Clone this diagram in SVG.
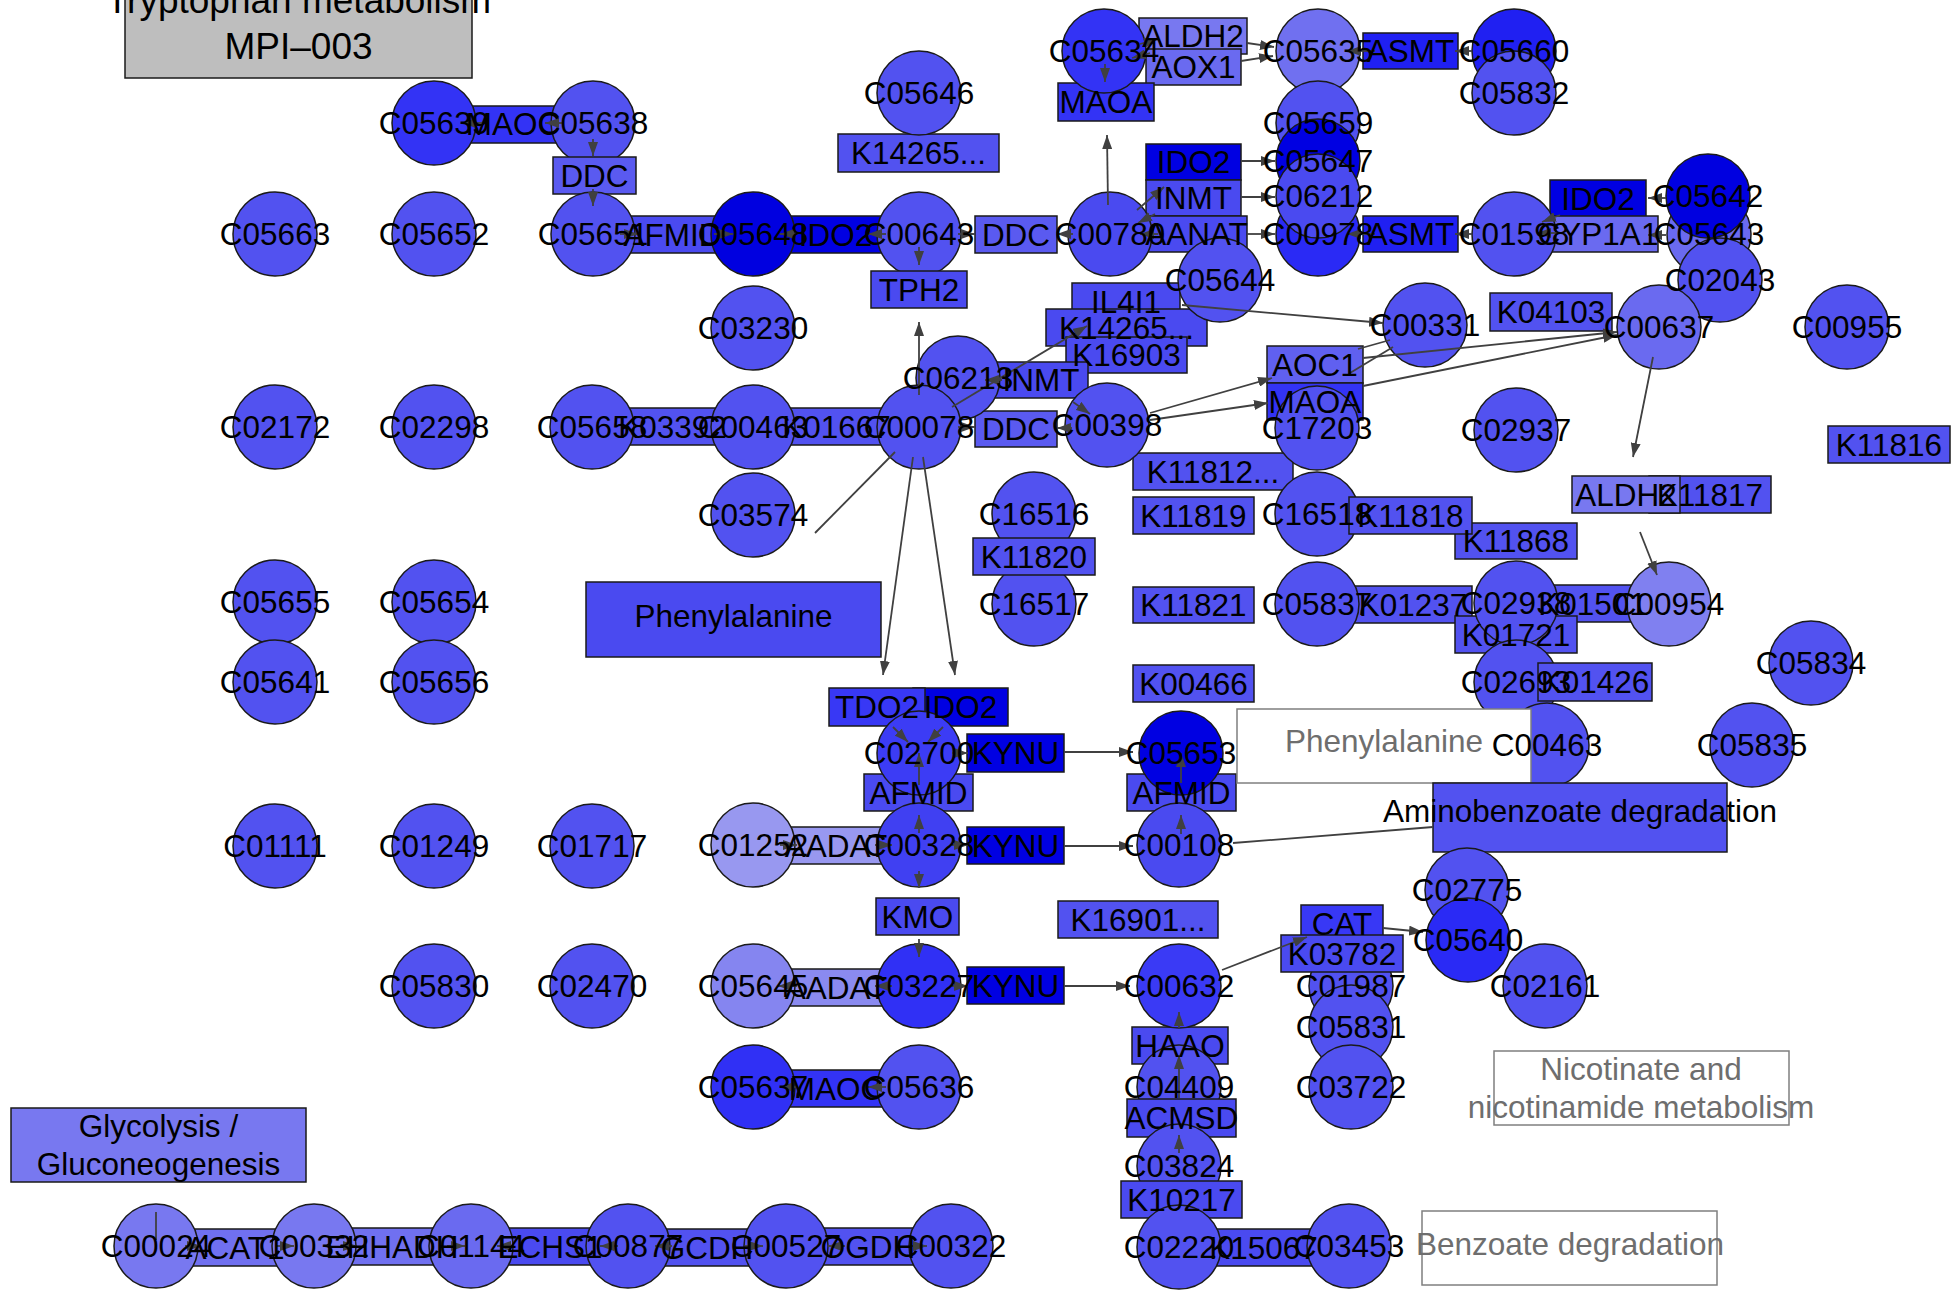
<svg xmlns="http://www.w3.org/2000/svg" width="1952" height="1294" viewBox="0 0 1952 1294">
<style>
.s{stroke:#1a1a1a;stroke-width:1.5}
.f0{fill:#5252F0}.f1{fill:#4A4AF0}.f2{fill:#3333F5}.f3{fill:#2020F2}.f4{fill:#0000E2}
.f5{fill:#6A6AF0}.f6{fill:#7878F0}.f7{fill:#8585F0}.f8{fill:#9898F0}.f9{fill:#5A5AF0}
.fw{fill:#fff;stroke:#7f7f7f;stroke-width:1.5}
.e{fill:none;stroke:#404040;stroke-width:1.8}
.a{marker-end:url(#ah)}
.t{font-family:"Liberation Sans",Arial,Helvetica,sans-serif;font-size:31.5px;text-anchor:middle;fill:#000}
.tg{fill:#6e6e6e}
.tt{font-size:37px}
</style>
<defs>
<marker id="ah" viewBox="0 0 14 10" refX="14" refY="5" markerWidth="14" markerHeight="10" markerUnits="userSpaceOnUse" orient="auto"><path d="M0,0 L14,5 L0,10 z" fill="#404040"/></marker>
</defs>
<rect width="1952" height="1294" fill="#fff"/>
<g id="nodes">
<g id="title"><rect class="s" fill="#BEBEBE" x="125" y="-22" width="347" height="100"/></g>
<g id="r-MAOC-1"><rect class="s f2" x="464" y="106" width="98" height="37"/></g>
<g id="r-AFMID-1"><rect class="s f1" x="618" y="216" width="109" height="37"/></g>
<g id="r-IDO2-1"><rect class="s f4" x="788" y="216" width="95" height="37"/></g>
<g id="r-K14265-1"><rect class="s f0" x="838" y="134" width="161" height="38"/></g>
<g id="r-DDC-2"><rect class="s f9" x="975" y="216" width="82" height="37"/></g>
<g id="r-ALDH2-1"><rect class="s f6" x="1139" y="18" width="108" height="36"/></g>
<g id="r-AOX1"><rect class="s f5" x="1146" y="49" width="95" height="36"/></g>
<g id="r-MAOA-1"><rect class="s f2" x="1058" y="83" width="96" height="38"/></g>
<g id="r-ASMT-1"><rect class="s f3" x="1363" y="33" width="95" height="36"/></g>
<g id="r-IDO2-2"><rect class="s f4" x="1146" y="144" width="95" height="36"/></g>
<g id="r-INMT-1"><rect class="s f1" x="1146" y="180" width="95" height="36"/></g>
<g id="r-AANAT"><rect class="s f1" x="1146" y="216" width="101" height="36"/></g>
<g id="r-ASMT-2"><rect class="s f3" x="1363" y="216" width="95" height="36"/></g>
<g id="r-IDO2-3"><rect class="s f4" x="1550" y="180" width="96" height="37"/></g>
<g id="r-CYP1A1"><rect class="s f5" x="1538" y="216" width="120" height="36"/></g>
<g id="r-K04103"><rect class="s f0" x="1490" y="293" width="122" height="38"/></g>
<g id="r-IL4I1"><rect class="s f1" x="1072" y="283" width="108" height="37"/></g>
<g id="r-K14265-2"><rect class="s f1" x="1046" y="309" width="161" height="37"/></g>
<g id="r-K16903"><rect class="s f1" x="1066" y="337" width="121" height="36"/></g>
<g id="r-INMT-2"><rect class="s f1" x="993" y="362" width="95" height="36"/></g>
<g id="r-DDC-3"><rect class="s f9" x="975" y="411" width="82" height="36"/></g>
<g id="r-AOC1"><rect class="s" fill="#6060F0" x="1267" y="346" width="96" height="37"/></g>
<g id="r-MAOA-2"><rect class="s f2" x="1267" y="383" width="96" height="37"/></g>
<g id="r-K03392"><rect class="s f0" x="612" y="408" width="121" height="37"/></g>
<g id="r-K01667"><rect class="s f0" x="776" y="408" width="121" height="37"/></g>
<g id="r-K11816"><rect class="s f0" x="1828" y="426" width="122" height="37"/></g>
<g id="r-K11817"><rect class="s f0" x="1649" y="476" width="122" height="37"/></g>
<g id="r-ALDH2-2"><rect class="s f6" x="1572" y="476" width="108" height="37"/></g>
<g id="r-K11812"><rect class="s f0" x="1133" y="453" width="160" height="37"/></g>
<g id="r-K11819"><rect class="s f0" x="1133" y="497" width="121" height="37"/></g>
<g id="r-K11821"><rect class="s f0" x="1133" y="587" width="121" height="36"/></g>
<g id="r-K00466"><rect class="s f0" x="1133" y="665" width="121" height="37"/></g>
<g id="r-K01237"><rect class="s f0" x="1354" y="586" width="118" height="37"/></g>
<g id="r-K11868"><rect class="s f0" x="1455" y="523" width="122" height="36"/></g>
<g id="r-K01501"><rect class="s f0" x="1532" y="585" width="121" height="37"/></g>
<g id="r-K01721"><rect class="s f0" x="1455" y="616" width="122" height="37"/></g>
<g id="r-Phenylalanine-1"><rect class="s f1" x="586" y="582" width="295" height="75"/></g>
<g id="r-IDO2-4"><rect class="s f4" x="913" y="688" width="95" height="38"/></g>
<g id="r-TDO2"><rect class="s" fill="#3838F5" x="829" y="688" width="96" height="38"/></g>
<g id="r-KYNU-1"><rect class="s f4" x="967" y="734" width="97" height="38"/></g>
<g id="r-AFMID-2"><rect class="s f1" x="864" y="774" width="109" height="37"/></g>
<g id="r-AFMID-3"><rect class="s f1" x="1127" y="774" width="109" height="37"/></g>
<g id="r-AADAT-1"><rect class="s f8" x="780" y="827" width="112" height="37"/></g>
<g id="r-KYNU-2"><rect class="s f4" x="967" y="827" width="97" height="37"/></g>
<g id="r-KMO"><rect class="s f1" x="876" y="898" width="83" height="37"/></g>
<g id="r-K16901"><rect class="s f0" x="1058" y="901" width="160" height="37"/></g>
<g id="r-AADAT-2"><rect class="s" fill="#8A8AF0" x="780" y="969" width="112" height="37"/></g>
<g id="r-KYNU-3"><rect class="s f4" x="967" y="967" width="97" height="37"/></g>
<g id="r-HAAO"><rect class="s f1" x="1132" y="1027" width="96" height="37"/></g>
<g id="r-CAT"><rect class="s" fill="#3838F5" x="1301" y="905" width="82" height="37"/></g>
<g id="r-MAOC-2"><rect class="s f2" x="787" y="1070" width="98" height="37"/></g>
<g id="r-K15067"><rect class="s f1" x="1203" y="1229" width="121" height="37"/></g>
<g id="r-Glycolysis"><rect class="s f6" x="11" y="1108" width="295" height="74"/></g>
<g id="r-ACAT1"><rect class="s" fill="#7070F0" x="181" y="1229" width="108" height="37"/></g>
<g id="r-EHHADH"><rect class="s" fill="#7070F0" x="322" y="1228" width="140" height="37"/></g>
<g id="r-ECHS1"><rect class="s f1" x="494" y="1228" width="112" height="37"/></g>
<g id="r-GCDH"><rect class="s f0" x="658" y="1229" width="98" height="37"/></g>
<g id="r-OGDH"><rect class="s f0" x="818" y="1228" width="100" height="37"/></g>
<g id="r-Nicotinate"><rect class="fw" x="1494" y="1051" width="295" height="74"/></g>
<g id="r-Benzoate"><rect class="fw" x="1422" y="1211" width="295" height="74"/></g>

<g id="C05639"><circle class="s f2" cx="434" cy="123" r="42"/></g>
<g id="C05638"><circle class="s f0" cx="593" cy="123" r="42"/></g>
<g id="r-DDC-1"><rect class="s f9" x="553" y="157" width="83" height="37"/></g>
<g id="C05646"><circle class="s f0" cx="919" cy="93" r="42"/></g>
<g id="C05663"><circle class="s f0" cx="275" cy="234" r="42"/></g>
<g id="C05652"><circle class="s f0" cx="434" cy="234" r="42"/></g>
<g id="C05651"><circle class="s f0" cx="593" cy="234" r="42"/></g>
<g id="C05648"><circle class="s" fill="#0000E0" cx="753" cy="234" r="42"/></g>
<g id="C00643"><circle class="s f0" cx="919" cy="234" r="42"/></g>
<g id="r-TPH2"><rect class="s f1" x="871" y="271" width="96" height="37"/></g>
<g id="C03230"><circle class="s f0" cx="753" cy="328" r="42"/></g>
<g id="C05634"><circle class="s f2" cx="1104" cy="51" r="42"/></g>
<g id="C05635"><circle class="s" fill="#7070F0" cx="1318" cy="51" r="42"/></g>
<g id="C05660"><circle class="s f3" cx="1514" cy="51" r="42"/></g>
<g id="C05832"><circle class="s f0" cx="1514" cy="93" r="42"/></g>
<g id="C05659"><circle class="s f0" cx="1318" cy="123" r="42"/></g>
<g id="C05647"><circle class="s f4" cx="1318" cy="161" r="42"/></g>
<g id="C00978"><circle class="s" fill="#2A2AF5" cx="1318" cy="234" r="42"/></g>
<g id="C06212"><circle class="s f1" cx="1318" cy="196" r="42"/></g>
<g id="C00780"><circle class="s f1" cx="1110" cy="234" r="42"/></g>
<g id="C05644"><circle class="s f0" cx="1220" cy="280" r="42"/></g>
<g id="C01598"><circle class="s f0" cx="1514" cy="234" r="42"/></g>
<g id="C05643"><circle class="s f5" cx="1709" cy="234" r="42"/></g>
<g id="C05642"><circle class="s" fill="#0000E0" cx="1708" cy="196" r="42"/></g>
<g id="C02043"><circle class="s f0" cx="1720" cy="280" r="42"/></g>
<g id="C00637"><circle class="s f5" cx="1659" cy="327" r="42"/></g>
<g id="C00955"><circle class="s f0" cx="1847" cy="327" r="42"/></g>
<g id="C00331"><circle class="s f0" cx="1425" cy="325" r="42"/></g>
<g id="C06213"><circle class="s f0" cx="958" cy="378" r="42"/></g>
<g id="C00078"><circle class="s f0" cx="919" cy="427" r="42"/></g>
<g id="C00398"><circle class="s f0" cx="1107" cy="425" r="42"/></g>
<g id="C17203"><circle class="s f0" cx="1317" cy="428" r="42"/></g>
<g id="C02172"><circle class="s f0" cx="275" cy="427" r="42"/></g>
<g id="C02298"><circle class="s f0" cx="434" cy="427" r="42"/></g>
<g id="C05658"><circle class="s f0" cx="592" cy="427" r="42"/></g>
<g id="C00463-1"><circle class="s f0" cx="753" cy="427" r="42"/></g>
<g id="C02937"><circle class="s f0" cx="1516" cy="430" r="42"/></g>
<g id="C03574"><circle class="s f0" cx="753" cy="515" r="42"/></g>
<g id="C16516"><circle class="s f0" cx="1034" cy="514" r="42"/></g>
<g id="C16517"><circle class="s f0" cx="1034" cy="604" r="42"/></g>
<g id="r-K11820"><rect class="s f0" x="973" y="538" width="122" height="37"/></g>
<g id="C16518"><circle class="s f0" cx="1317" cy="514" r="42"/></g>
<g id="r-K11818"><rect class="s f0" x="1349" y="497" width="123" height="37"/></g>
<g id="C05837"><circle class="s f0" cx="1317" cy="604" r="42"/></g>
<g id="C02938"><circle class="s f0" cx="1516" cy="603" r="42"/></g>
<g id="C00954"><circle class="s" fill="#8080F0" cx="1669" cy="604" r="42"/></g>
<g id="C02693"><circle class="s f0" cx="1516" cy="682" r="42"/></g>
<g id="r-K01426"><rect class="s f0" x="1538" y="663" width="114" height="38"/></g>
<g id="C00463-2"><circle class="s f0" cx="1547" cy="745" r="42"/></g>
<g id="r-Phenylalanine-2"><rect class="fw" x="1237" y="709" width="294" height="74"/></g>
<g id="r-Aminobenzoate"><rect class="s f0" x="1433" y="783" width="294" height="69"/></g>
<g id="C05834"><circle class="s f0" cx="1811" cy="663" r="42"/></g>
<g id="C05835"><circle class="s f0" cx="1752" cy="745" r="42"/></g>
<g id="C05655"><circle class="s f0" cx="275" cy="602" r="42"/></g>
<g id="C05641"><circle class="s f0" cx="275" cy="682" r="42"/></g>
<g id="C05654"><circle class="s f0" cx="434" cy="602" r="42"/></g>
<g id="C05656"><circle class="s f0" cx="434" cy="682" r="42"/></g>
<g id="C02700"><circle class="s" fill="#3C3CF5" cx="919" cy="753" r="42"/></g>
<g id="C05653"><circle class="s f4" cx="1181" cy="753" r="42"/></g>
<g id="C01111"><circle class="s f0" cx="275" cy="846" r="42"/></g>
<g id="C01249"><circle class="s f0" cx="434" cy="846" r="42"/></g>
<g id="C01717"><circle class="s f0" cx="592" cy="846" r="42"/></g>
<g id="C01252"><circle class="s f8" cx="753" cy="845" r="42"/></g>
<g id="C00328"><circle class="s" fill="#4040F2" cx="919" cy="845" r="42"/></g>
<g id="C00108"><circle class="s f1" cx="1179" cy="845" r="42"/></g>
<g id="C05830"><circle class="s f0" cx="434" cy="986" r="42"/></g>
<g id="C02470"><circle class="s f0" cx="592" cy="986" r="42"/></g>
<g id="C05645"><circle class="s f7" cx="753" cy="986" r="42"/></g>
<g id="C03227"><circle class="s" fill="#3030F5" cx="919" cy="986" r="42"/></g>
<g id="C00632"><circle class="s" fill="#3A3AF5" cx="1179" cy="986" r="42"/></g>
<g id="C05637"><circle class="s" fill="#3030F5" cx="753" cy="1087" r="42"/></g>
<g id="C05636"><circle class="s f0" cx="919" cy="1087" r="42"/></g>
<g id="C04409"><circle class="s f0" cx="1179" cy="1087" r="42"/></g>
<g id="r-ACMSD"><rect class="s f1" x="1127" y="1099" width="109" height="38"/></g>
<g id="C03824"><circle class="s f0" cx="1179" cy="1166" r="42"/></g>
<g id="r-K10217"><rect class="s f1" x="1121" y="1181" width="121" height="37"/></g>
<g id="C02220"><circle class="s f0" cx="1179" cy="1247" r="42"/></g>
<g id="C03453"><circle class="s f0" cx="1349" cy="1246" r="42"/></g>
<g id="C02775"><circle class="s f0" cx="1467" cy="890" r="42"/></g>
<g id="C05640"><circle class="s" fill="#2A2AF5" cx="1468" cy="940" r="42"/></g>
<g id="C02161"><circle class="s f0" cx="1545" cy="986" r="42"/></g>
<g id="C01987"><circle class="s f0" cx="1351" cy="986" r="42"/></g>
<g id="C05831"><circle class="s f0" cx="1351" cy="1027" r="42"/></g>
<g id="C03722"><circle class="s f0" cx="1351" cy="1087" r="42"/></g>
<g id="r-K03782"><rect class="s f1" x="1281" y="935" width="122" height="37"/></g>
<g id="C00024"><circle class="s f6" cx="156" cy="1246" r="42"/></g>
<g id="C00332"><circle class="s f6" cx="314" cy="1246" r="42"/></g>
<g id="C01144"><circle class="s f5" cx="471" cy="1246" r="42"/></g>
<g id="C00877"><circle class="s f0" cx="628" cy="1246" r="42"/></g>
<g id="C00527"><circle class="s f0" cx="786" cy="1246" r="42"/></g>
<g id="C00322"><circle class="s f0" cx="951" cy="1246" r="42"/></g>
</g>

<g id="edges" class="e">
<line class="a" x1="482" y1="123" x2="462" y2="123"/>
<line class="a" x1="563" y1="123" x2="545" y2="123"/>
<line class="a" x1="593" y1="139" x2="593" y2="156"/>
<line class="a" x1="593" y1="189" x2="593" y2="206"/>
<line class="a" x1="620" y1="234" x2="638" y2="234"/>
<line class="a" x1="714" y1="234" x2="733" y2="234"/>
<line class="a" x1="798" y1="234" x2="780" y2="234"/>
<line class="a" x1="886" y1="234" x2="868" y2="234"/>
<line class="a" x1="958" y1="234" x2="975" y2="234"/>
<line class="a" x1="1073" y1="234" x2="1057" y2="234"/>
<line class="a" x1="919" y1="247" x2="919" y2="265"/>
<line class="a" x1="919" y1="395" x2="919" y2="322"/>
<line class="a" x1="1108" y1="205" x2="1107" y2="135"/>
<line class="a" x1="1105" y1="64" x2="1105" y2="82"/>
<line class="a" x1="1140" y1="44" x2="1158" y2="39"/>
<line class="a" x1="1150" y1="53" x2="1132" y2="58"/>
<line class="a" x1="1247" y1="43" x2="1274" y2="47"/>
<line class="a" x1="1241" y1="61" x2="1273" y2="56"/>
<line class="a" x1="1375" y1="51" x2="1347" y2="51"/>
<line class="a" x1="1472" y1="51" x2="1455" y2="51"/>
<line class="a" x1="1241" y1="161" x2="1275" y2="161"/>
<line class="a" x1="1241" y1="197" x2="1275" y2="197"/>
<line class="a" x1="1247" y1="234" x2="1275" y2="234"/>
<line class="a" x1="1375" y1="234" x2="1347" y2="234"/>
<line class="a" x1="1472" y1="234" x2="1455" y2="234"/>
<line class="a" x1="1137" y1="210" x2="1164" y2="187"/>
<line class="a" x1="1155" y1="214" x2="1138" y2="223"/>
<line class="a" x1="1158" y1="234" x2="1140" y2="234"/>
<line class="a" x1="1557" y1="233" x2="1537" y2="233"/>
<line class="a" x1="1560" y1="215" x2="1542" y2="222"/>
<line class="a" x1="1666" y1="198" x2="1648" y2="198"/>
<line class="a" x1="1666" y1="235" x2="1648" y2="235"/>
<line class="a" x1="1182" y1="305" x2="1383" y2="323"/>
<line class="a" x1="952" y1="407" x2="1087" y2="326"/>
<line class="a" x1="1002" y1="380" x2="985" y2="380"/>
<line class="a" x1="1073" y1="402" x2="1090" y2="414"/>
<line class="a" x1="1150" y1="413" x2="1272" y2="378"/>
<line class="a" x1="1150" y1="420" x2="1268" y2="403"/>
<line x1="1390" y1="340" x2="1358" y2="349"/>
<line x1="1393" y1="347" x2="1350" y2="373"/>
<line class="a" x1="1363" y1="358" x2="1617" y2="332"/>
<line class="a" x1="1363" y1="386" x2="1617" y2="335"/>
<line class="a" x1="1072" y1="428" x2="1057" y2="428"/>
<line class="a" x1="958" y1="427" x2="975" y2="427"/>
<line class="a" x1="1653" y1="357" x2="1633" y2="457"/>
<line class="a" x1="1640" y1="532" x2="1657" y2="575"/>
<line class="a" x1="913" y1="457" x2="883" y2="675"/>
<line class="a" x1="923" y1="457" x2="955" y2="675"/>
<line x1="895" y1="452" x2="815" y2="533"/>
<line class="a" x1="893" y1="727" x2="908" y2="742"/>
<line class="a" x1="943" y1="727" x2="928" y2="742"/>
<line class="a" x1="919" y1="785" x2="919" y2="753"/>
<line class="a" x1="919" y1="833" x2="919" y2="815"/>
<line class="a" x1="780" y1="845" x2="797" y2="845"/>
<line class="a" x1="875" y1="845" x2="892" y2="845"/>
<line class="a" x1="952" y1="845" x2="968" y2="845"/>
<line class="a" x1="1064" y1="846" x2="1133" y2="846"/>
<line class="a" x1="952" y1="753" x2="968" y2="753"/>
<line class="a" x1="1064" y1="752" x2="1133" y2="752"/>
<line class="a" x1="1181" y1="783" x2="1181" y2="753"/>
<line class="a" x1="1181" y1="834" x2="1181" y2="815"/>
<line x1="1233" y1="843" x2="1433" y2="827"/>
<line class="a" x1="919" y1="871" x2="919" y2="888"/>
<line class="a" x1="919" y1="939" x2="919" y2="957"/>
<line class="a" x1="797" y1="986" x2="778" y2="986"/>
<line class="a" x1="892" y1="986" x2="875" y2="986"/>
<line class="a" x1="952" y1="986" x2="968" y2="986"/>
<line class="a" x1="1064" y1="986" x2="1130" y2="986"/>
<line class="a" x1="1179" y1="1028" x2="1179" y2="1012"/>
<line class="a" x1="1179" y1="1098" x2="1179" y2="1055"/>
<line class="a" x1="1179" y1="1153" x2="1179" y2="1135"/>
<line class="a" x1="1222" y1="970" x2="1307" y2="937"/>
<line class="a" x1="1383" y1="928" x2="1423" y2="932"/>
<line class="a" x1="798" y1="1087" x2="780" y2="1087"/>
<line class="a" x1="886" y1="1087" x2="868" y2="1087"/>
<line class="a" x1="185" y1="1246" x2="201" y2="1246"/>
<line class="a" x1="277" y1="1246" x2="294" y2="1246"/>
<line class="a" x1="340" y1="1246" x2="357" y2="1246"/>
<line class="a" x1="447" y1="1246" x2="465" y2="1246"/>
<line class="a" x1="513" y1="1246" x2="497" y2="1246"/>
<line class="a" x1="618" y1="1246" x2="600" y2="1246"/>
<line class="a" x1="672" y1="1246" x2="655" y2="1246"/>
<line class="a" x1="745" y1="1246" x2="763" y2="1246"/>
<line class="a" x1="845" y1="1246" x2="828" y2="1246"/>
<line class="a" x1="910" y1="1246" x2="927" y2="1246"/>
<line x1="156" y1="1212" x2="156" y2="1240"/>
</g>

<g id="labels" class="t">
<text class="tt" x="298.5" y="13">Tryptophan metabolism</text>
<text class="tt" x="298.5" y="59">MPI–003</text>
<text x="434" y="134">C05639</text>
<text x="513" y="135">MAOC</text>
<text x="593" y="134">C05638</text>
<text x="594.5" y="186.5">DDC</text>
<text x="919" y="104">C05646</text>
<text x="918.5" y="164">K14265...</text>
<text x="275" y="245">C05663</text>
<text x="434" y="245">C05652</text>
<text x="593" y="245">C05651</text>
<text x="672.5" y="245.5">AFMID</text>
<text x="753" y="245">C05648</text>
<text x="835.5" y="245.5">IDO2</text>
<text x="919" y="245">C00643</text>
<text x="919" y="300.5">TPH2</text>
<text x="1016" y="245.5">DDC</text>
<text x="753" y="339">C03230</text>
<text x="1104" y="62">C05634</text>
<text x="1193" y="47">ALDH2</text>
<text x="1193.5" y="78">AOX1</text>
<text x="1106" y="113">MAOA</text>
<text x="1318" y="62">C05635</text>
<text x="1410.5" y="62">ASMT</text>
<text x="1514" y="62">C05660</text>
<text x="1514" y="104">C05832</text>
<text x="1318" y="134">C05659</text>
<text x="1193.5" y="173">IDO2</text>
<text x="1318" y="172">C05647</text>
<text x="1193.5" y="208.5">INMT</text>
<text x="1318" y="207">C06212</text>
<text x="1196.5" y="245">AANAT</text>
<text x="1318" y="245">C00978</text>
<text x="1110" y="245">C00780</text>
<text x="1410.5" y="245">ASMT</text>
<text x="1514" y="245">C01598</text>
<text x="1598" y="209.5">IDO2</text>
<text x="1708" y="207">C05642</text>
<text x="1598" y="245">CYP1A1</text>
<text x="1709" y="245">C05643</text>
<text x="1720" y="291">C02043</text>
<text x="1220" y="291">C05644</text>
<text x="1126" y="312.5">IL4I1</text>
<text x="1126.5" y="338.5">K14265...</text>
<text x="1126.5" y="366">K16903</text>
<text x="1425" y="336">C00331</text>
<text x="1551" y="323">K04103</text>
<text x="1659" y="338">C00637</text>
<text x="1847" y="338">C00955</text>
<text x="958" y="389">C06213</text>
<text x="1041" y="391">INMT</text>
<text x="275" y="438">C02172</text>
<text x="434" y="438">C02298</text>
<text x="592" y="438">C05658</text>
<text x="672.5" y="437.5">K03392</text>
<text x="753" y="438">C00463</text>
<text x="836.5" y="437.5">K01667</text>
<text x="919" y="438">C00078</text>
<text x="1016" y="440">DDC</text>
<text x="1107" y="436">C00398</text>
<text x="1315" y="375.5">AOC1</text>
<text x="1315" y="412.5">MAOA</text>
<text x="1317" y="439">C17203</text>
<text x="1516" y="441">C02937</text>
<text x="1889" y="455.5">K11816</text>
<text x="1626" y="505.5">ALDH2</text>
<text x="1710" y="505.5">K11817</text>
<text x="753" y="526">C03574</text>
<text x="1034" y="525">C16516</text>
<text x="1213" y="482.5">K11812...</text>
<text x="1193.5" y="526.5">K11819</text>
<text x="1317" y="525">C16518</text>
<text x="1410.5" y="526.5">K11818</text>
<text x="1516" y="552">K11868</text>
<text x="1034" y="567.5">K11820</text>
<text x="1034" y="615">C16517</text>
<text x="1193.5" y="616">K11821</text>
<text x="1317" y="615">C05837</text>
<text x="1413" y="615.5">K01237</text>
<text x="1516" y="614">C02938</text>
<text x="1592.5" y="614.5">K01501</text>
<text x="1669" y="615">C00954</text>
<text x="1516" y="645.5">K01721</text>
<text x="275" y="613">C05655</text>
<text x="434" y="613">C05654</text>
<text x="275" y="693">C05641</text>
<text x="434" y="693">C05656</text>
<text x="733.5" y="627">Phenylalanine</text>
<text x="1193.5" y="694.5">K00466</text>
<text x="1516" y="693">C02693</text>
<text x="1595" y="693">K01426</text>
<text x="1811" y="674">C05834</text>
<text x="877" y="718">TDO2</text>
<text x="960.5" y="718">IDO2</text>
<text x="919" y="764">C02700</text>
<text x="1015.5" y="764">KYNU</text>
<text x="1181" y="764">C05653</text>
<text class="tg" x="1384" y="752">Phenylalanine</text>
<text x="1547" y="756">C00463</text>
<text x="1752" y="756">C05835</text>
<text x="918.5" y="803.5">AFMID</text>
<text x="1181.5" y="803.5">AFMID</text>
<text x="1580" y="822">Aminobenzoate degradation</text>
<text x="275" y="857">C01111</text>
<text x="434" y="857">C01249</text>
<text x="592" y="857">C01717</text>
<text x="753" y="856">C01252</text>
<text x="836" y="856.5">AADAT</text>
<text x="919" y="856">C00328</text>
<text x="1015.5" y="856.5">KYNU</text>
<text x="1179" y="856">C00108</text>
<text x="1467" y="901">C02775</text>
<text x="917.5" y="927.5">KMO</text>
<text x="1138" y="930.5">K16901...</text>
<text x="1342" y="934.5">CAT</text>
<text x="1342" y="964.5">K03782</text>
<text x="1468" y="951">C05640</text>
<text x="434" y="997">C05830</text>
<text x="592" y="997">C02470</text>
<text x="753" y="997">C05645</text>
<text x="836" y="998.5">AADAT</text>
<text x="919" y="997">C03227</text>
<text x="1015.5" y="996.5">KYNU</text>
<text x="1179" y="997">C00632</text>
<text x="1351" y="997">C01987</text>
<text x="1545" y="997">C02161</text>
<text x="1351" y="1038">C05831</text>
<text x="1180" y="1056.5">HAAO</text>
<text x="753" y="1098">C05637</text>
<text x="836" y="1099.5">MAOC</text>
<text x="919" y="1098">C05636</text>
<text x="1179" y="1098">C04409</text>
<text x="1351" y="1098">C03722</text>
<text class="tg" x="1641" y="1080">Nicotinate and</text>
<text class="tg" x="1641" y="1118">nicotinamide metabolism</text>
<text x="1181.5" y="1129">ACMSD</text>
<text x="1179" y="1177">C03824</text>
<text x="1181.5" y="1210.5">K10217</text>
<text x="158.5" y="1137">Glycolysis /</text>
<text x="158.5" y="1175">Gluconeogenesis</text>
<text x="156" y="1257">C00024</text>
<text x="235" y="1258.5">ACAT1</text>
<text x="314" y="1257">C00332</text>
<text x="392" y="1257.5">EHHADH</text>
<text x="471" y="1257">C01144</text>
<text x="550" y="1257.5">ECHS1</text>
<text x="628" y="1257">C00877</text>
<text x="707" y="1258.5">GCDH</text>
<text x="786" y="1257">C00527</text>
<text x="868" y="1257.5">OGDH</text>
<text x="951" y="1257">C00322</text>
<text x="1179" y="1258">C02220</text>
<text x="1263.5" y="1258.5">K15067</text>
<text x="1349" y="1257">C03453</text>
<text class="tg" x="1570" y="1255">Benzoate degradation</text>
</g>
</svg>
